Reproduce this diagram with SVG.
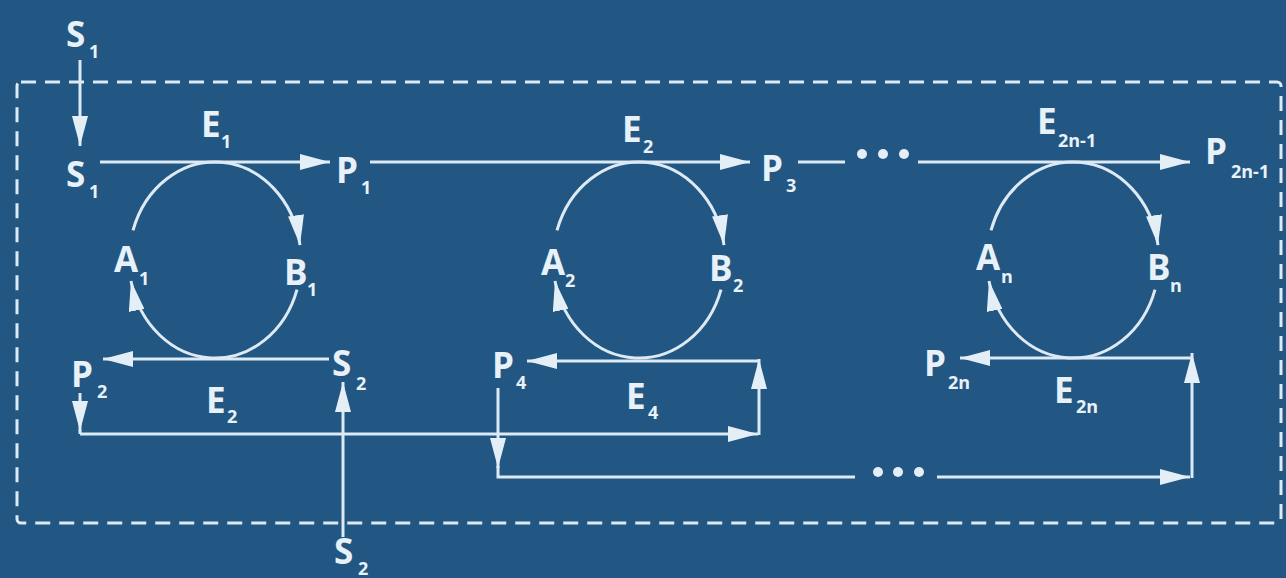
<svg xmlns="http://www.w3.org/2000/svg" width="1286" height="578" viewBox="0 0 1286 578">
<defs>
<style>
.bg{fill:#215782}
.ln{fill:none;stroke:#dde9f4;stroke-width:3}
.ar{marker-end:url(#ah)}
.frame{fill:none;stroke:#dde9f4;stroke-width:3;stroke-dasharray:15 9}
.dot{fill:#e4eef7}
text{font-family:"Open Sans","Liberation Sans",sans-serif;font-weight:700;font-size:35px;fill:#e8f1f8}
.s{font-size:18px}
</style>
<marker id="ah" markerUnits="userSpaceOnUse" viewBox="0 0 30 16" refX="30" refY="8" markerWidth="30" markerHeight="16" orient="auto">
<path d="M0,0 L30,8 L0,16 z" fill="#e4eef7"/>
</marker>
</defs>
<rect class="bg" x="0" y="0" width="1286" height="578"/>
<rect class="frame" x="17" y="82" width="1264" height="441" rx="4"/>

<g id="connectors">
<path class="ln ar" d="M80,60 L80,146"/>
<path class="ln ar" d="M100,162 L330,162"/>
<path class="ln ar" d="M370,162 L750,162"/>
<path class="ln" d="M798,162 L845,162"/>
<circle class="dot" cx="862" cy="154" r="5"/>
<circle class="dot" cx="883" cy="154" r="5"/>
<circle class="dot" cx="904" cy="154" r="5"/>
<path class="ln ar" d="M918,162 L1190,162"/>

<path class="ln ar" d="M133,230.4 A86,98 0 0 1 300,245.1"/>
<path class="ln ar" d="M297,289.6 A86,98 0 0 1 131,281"/>
<path class="ln ar" d="M557,230.4 A86,98 0 0 1 724,245.1"/>
<path class="ln ar" d="M721,289.6 A86,98 0 0 1 555,281"/>
<path class="ln ar" d="M991,230.4 A86,98 0 0 1 1158,245.1"/>
<path class="ln ar" d="M1155,289.6 A86,98 0 0 1 989,281"/>

<path class="ln ar" d="M329,359 L103,359"/>
<path class="ln ar" d="M343,537 L343,382"/>
<path class="ln ar" d="M80,393 L80,431"/>
<path class="ln" d="M80,430 L80,434"/>
<path class="ln ar" d="M80,434 L758,434"/>
<path class="ln ar" d="M759,435 L759,359"/>
<path class="ln ar" d="M760,361 L527,361"/>

<path class="ln ar" d="M498,388 L498,468"/>
<path class="ln" d="M498,466 L498,477 L855,477"/>
<circle class="dot" cx="878" cy="472" r="5"/>
<circle class="dot" cx="898" cy="472" r="5"/>
<circle class="dot" cx="919" cy="472" r="5"/>
<path class="ln ar" d="M937,477 L1190,477"/>
<path class="ln ar" d="M1192,478 L1192,353"/>
<path class="ln ar" d="M1193,358 L960,358"/>
</g>

<g id="S1_in"><text x="66" y="47">S<tspan class="s" x="89" y="58">1</tspan></text></g>
<g id="S1"><text x="66" y="187">S<tspan class="s" x="89" y="198">1</tspan></text></g>
<g id="E1"><text x="201" y="137">E<tspan class="s" x="221" y="148">1</tspan></text></g>
<g id="P1"><text x="336" y="183">P<tspan class="s" x="361" y="194">1</tspan></text></g>
<g id="E2_top"><text x="622" y="142">E<tspan class="s" x="643" y="153">2</tspan></text></g>
<g id="P3"><text x="761" y="181">P<tspan class="s" x="786" y="192">3</tspan></text></g>
<g id="E2n-1"><text x="1037" y="134">E<tspan class="s" x="1058" y="147">2n-1</tspan></text></g>
<g id="P2n-1"><text x="1205" y="164">P<tspan class="s" x="1231" y="178">2n-1</tspan></text></g>
<g id="A1"><text x="114" y="272">A<tspan class="s" x="139" y="285">1</tspan></text></g>
<g id="B1"><text x="284" y="285">B<tspan class="s" x="307" y="296">1</tspan></text></g>
<g id="A2"><text x="541" y="275">A<tspan class="s" x="565" y="287">2</tspan></text></g>
<g id="B2"><text x="709" y="281">B<tspan class="s" x="733" y="292">2</tspan></text></g>
<g id="An"><text x="976" y="270">A<tspan class="s" x="1001" y="283">n</tspan></text></g>
<g id="Bn"><text x="1147" y="280">B<tspan class="s" x="1170" y="292">n</tspan></text></g>
<g id="P2"><text x="71" y="387">P<tspan class="s" x="97" y="398">2</tspan></text></g>
<g id="S2"><text x="332" y="376">S<tspan class="s" x="356" y="390">2</tspan></text></g>
<g id="E2_bottom"><text x="206" y="413">E<tspan class="s" x="227" y="423">2</tspan></text></g>
<g id="P4"><text x="492" y="378">P<tspan class="s" x="516" y="389">4</tspan></text></g>
<g id="E4"><text x="626" y="409">E<tspan class="s" x="648" y="419">4</tspan></text></g>
<g id="P2n"><text x="924" y="376">P<tspan class="s" x="948" y="389">2n</tspan></text></g>
<g id="E2n"><text x="1054" y="403">E<tspan class="s" x="1076" y="413">2n</tspan></text></g>
<g id="S2_in"><text x="334" y="564">S<tspan class="s" x="358" y="575">2</tspan></text></g>
</svg>
